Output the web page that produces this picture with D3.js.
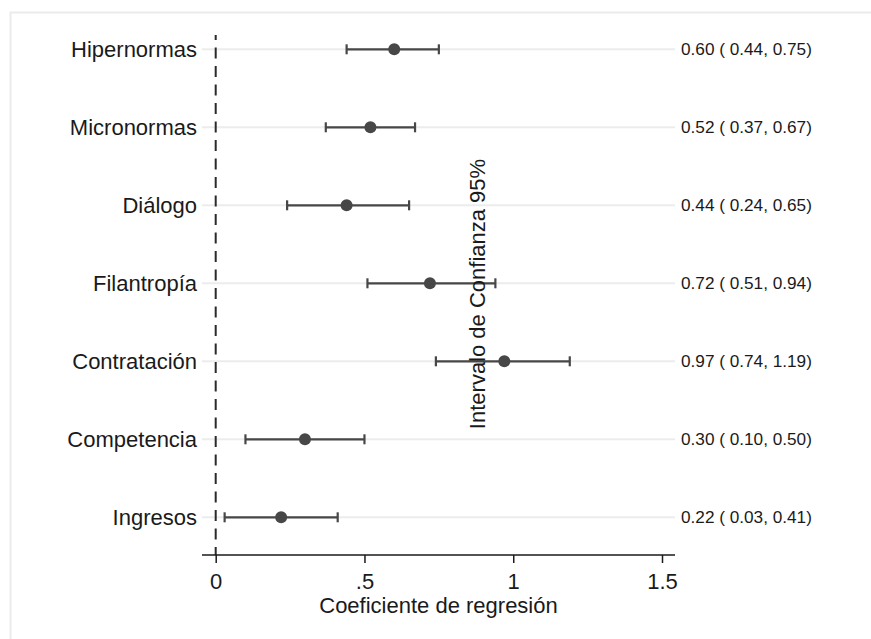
<!DOCTYPE html>
<html>
<head>
<meta charset="utf-8">
<script src="https://cdn.jsdelivr.net/npm/d3@7"></script>
<style>
  body { margin: 0; background: #fff; }
  text { font-family: "Liberation Sans", Arial, sans-serif; fill: #1a1a1a; }
</style>
</head>
<body>
<script>
// coefficient plot

let w = 871;
let h = 639;

let categories = ['Hipernormas', 'Micronormas', 'Diálogo', 'Filantropía', 'Contratación', 'Competencia', 'Ingresos'];
let coef = [0.60, 0.52, 0.44, 0.72, 0.97, 0.30, 0.22];
let lower = [0.44, 0.37, 0.24, 0.51, 0.74, 0.10, 0.03];
let upper = [0.75, 0.67, 0.65, 0.94, 1.19, 0.50, 0.41];
let xTicks = [0, 0.5, 1, 1.5];
let xTickLabels = ['0', '.5', '1', '1.5'];

let rows = categories.map((c, i) => ({ name: c, b: coef[i], lo: lower[i], hi: upper[i] }));

let svg = d3.select('body').append('svg').attr('width', w).attr('height', h);

// outer frame (only top and left edges fall inside the picture)
svg.append('path')
    .attr('d', 'M10.5,' + h + 'V12.5H' + w)
    .attr('fill', 'none')
    .attr('stroke', '#ebebeb')
    .attr('stroke-width', 2);

let x = d3.scaleLinear().domain([0, 1.5]).range([215.7, 662]);
let y = d3.scalePoint().domain(categories).range([49.3, 517.3]);

let xLeft = 202, xRight = 675, axisY = 555;

// grid lines
svg.selectAll('line.grid')
    .data(rows)
    .enter()
    .append('line')
    .attr('class', 'grid')
    .attr('x1', xLeft)
    .attr('x2', xRight)
    .attr('y1', d => y(d.name))
    .attr('y2', d => y(d.name))
    .attr('stroke', '#ececec')
    .attr('stroke-width', 2);

// zero reference line
svg.append('line')
    .attr('x1', x(0)).attr('x2', x(0))
    .attr('y1', 35).attr('y2', axisY)
    .attr('stroke', '#2a2a2a')
    .attr('stroke-width', 2)
    .attr('stroke-dasharray', '11,7.5')
    .attr('stroke-dashoffset', 6);

// x axis
let xAxis = d3.axisBottom(x)
    .tickValues(xTicks)
    .tickFormat((d, i) => xTickLabels[i])
    .tickSize(8)
    .tickPadding(10)
    .tickSizeOuter(0);

let gx = svg.append('g')
    .attr('transform', 'translate(0,' + axisY + ')')
    .call(xAxis);
gx.select('.domain').remove();
gx.append('line')
    .attr('x1', xLeft).attr('x2', xRight)
    .attr('stroke', '#1a1a1a').attr('stroke-width', 1.5);
gx.selectAll('.tick line').attr('stroke', '#1a1a1a').attr('stroke-width', 1.5);
gx.selectAll('.tick text')
    .attr('font-size', '22px')
    .attr('font-family', '"Liberation Sans", Arial, sans-serif')
    .attr('fill', '#1a1a1a');

svg.append('text')
    .attr('x', (xLeft + xRight) / 2)
    .attr('y', 613)
    .attr('text-anchor', 'middle')
    .attr('font-size', '22px')
    .text('Coeficiente de regresión');

// category labels
svg.selectAll('text.cat')
    .data(rows)
    .enter()
    .append('text')
    .attr('class', 'cat')
    .attr('x', 197)
    .attr('y', d => y(d.name))
    .attr('dy', '0.35em')
    .attr('text-anchor', 'end')
    .attr('font-size', '22px')
    .text(d => d.name);

// confidence intervals
let ci = svg.selectAll('g.ci')
    .data(rows)
    .enter()
    .append('g')
    .attr('class', 'ci')
    .attr('stroke', '#474747')
    .attr('stroke-width', 2.2);

ci.append('line')
    .attr('x1', d => x(d.lo)).attr('x2', d => x(d.hi))
    .attr('y1', d => y(d.name)).attr('y2', d => y(d.name));
ci.append('line')
    .attr('x1', d => x(d.lo)).attr('x2', d => x(d.lo))
    .attr('y1', d => y(d.name) - 5).attr('y2', d => y(d.name) + 5);
ci.append('line')
    .attr('x1', d => x(d.hi)).attr('x2', d => x(d.hi))
    .attr('y1', d => y(d.name) - 5).attr('y2', d => y(d.name) + 5);

svg.selectAll('circle')
    .data(rows)
    .enter()
    .append('circle')
    .attr('cx', d => x(d.b))
    .attr('cy', d => y(d.name))
    .attr('r', 6)
    .attr('fill', '#474747');

// estimate labels on the right
svg.selectAll('text.est')
    .data(rows)
    .enter()
    .append('text')
    .attr('class', 'est')
    .attr('x', 681)
    .attr('y', d => y(d.name))
    .attr('dy', '0.35em')
    .attr('font-size', '17.2px')
    .text(d => d.b.toFixed(2) + ' ( ' + d.lo.toFixed(2) + ', ' + d.hi.toFixed(2) + ')');

// axis title for the interval (sits over the plot as in the source)
svg.append('text')
    .attr('transform', 'translate(477,294) rotate(-90)')
    .attr('text-anchor', 'middle')
    .attr('dy', '0.35em')
    .attr('font-size', '22px')
    .text('Intervalo de Confianza 95%');
</script>
</body>
</html>
